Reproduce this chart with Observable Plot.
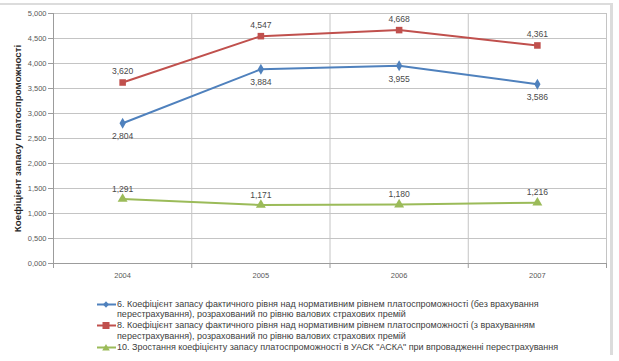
<!DOCTYPE html>
<html>
<head>
<meta charset="utf-8">
<script src="https://cdn.jsdelivr.net/npm/d3@7"></script>
<script src="https://cdn.jsdelivr.net/npm/@observablehq/plot@0.6"></script>
<style>
  html, body { margin: 0; padding: 0; background: #fff; }
  #wrap { position: relative; width: 619px; height: 361px; overflow: hidden; font-family: "Liberation Sans", Arial, sans-serif; }
  #frame { position: absolute; left: 0; top: 3px; width: 613px; height: 352px; border-top: 2px solid #dcdcdc; border-right: 3px solid #dcdcdc; box-sizing: border-box; }
  #chart { position: absolute; left: 0; top: 0; }
  .leg { position: absolute; left: 97px; font-size: 9px; line-height: 10.8px; color: #404040; white-space: nowrap; }
  .leg svg { position: absolute; left: 0; top: 0; }
  .leg .t { position: absolute; left: 20px; top: 0; }
</style>
</head>
<body>
<div id="wrap">
  <div id="frame"></div>
  <div id="chart"></div>
  <div id="legend"></div>
</div>
<script>
const years = [2004, 2005, 2006, 2007];
const series6 = [2.804, 3.884, 3.955, 3.586];
const series8 = [3.620, 4.547, 4.668, 4.361];
const series10 = [1.291, 1.171, 1.180, 1.216];
const yTicks = [0, 0.5, 1, 1.5, 2, 2.5, 3, 3.5, 4, 4.5, 5];
const yTitle = "Коефіцієнт запасу платоспроможності";
const legendLines = [
  ["6. Коефіцієнт запасу фактичного рівня над нормативним рівнем платоспроможності (без врахування", "перестрахування), розрахований по рівню валових страхових премій"],
  ["8. Коефіцієнт запасу фактичного рівня над нормативним рівнем платоспроможності (з врахуванням", "перестрахування), розрахований по рівню валових страхових премій"],
  ["10. Зростання коефіцієнту запасу платоспроможності в УАСК \"АСКА\" при впровадженні перестрахування"]
];

const seriesDefs = [
  {key: "s6", values: series6, color: "#4f81bd", symbol: "diamond", r: 3.3, dy: 13},
  {key: "s8", values: series8, color: "#c0504d", symbol: "square", r: 3.7, dy: -11},
  {key: "s10", values: series10, color: "#9bbb59", symbol: "triangle", r: 3.7, dy: -10}
];

const bounds = [2003.5, 2004.5, 2005.5, 2006.5, 2007.5];
const fmt = (v) => v.toFixed(3).replace(".", ",");
const grid = "#c4c4c4";
const axisC = "#9c9c9c";

const marks = [
  Plot.gridY(yTicks, {stroke: grid, strokeOpacity: 1}),
  Plot.gridX(bounds.slice(1), {stroke: grid, strokeOpacity: 1}),
  Plot.ruleX([2003.5], {stroke: axisC}),
  Plot.ruleY([0], {stroke: axisC}),
  Plot.axisY({ticks: yTicks, tickSize: 5, tickPadding: 2, tickFormat: fmt, stroke: axisC, fill: "#595959", fontSize: 7.5, label: null}),
  Plot.axisX({ticks: bounds, tickSize: 5, tickFormat: () => "", stroke: axisC, label: null}),
  Plot.axisX({ticks: years, tickSize: 0, tickPadding: 9, tickFormat: d => String(d), fill: "#595959", fontSize: 7.5, label: null}),
  Plot.text([yTitle], {frameAnchor: "left", dx: -36, rotate: -90, fontWeight: "bold", fontSize: 9.8, fill: "#262626", textAnchor: "middle"})
];

for (const s of seriesDefs) {
  const data = years.map((y, i) => ({year: y, value: s.values[i]}));
  marks.push(Plot.line(data, {x: "year", y: "value", stroke: s.color, strokeWidth: 2}));
  marks.push(Plot.dot(data, {x: "year", y: "value", symbol: () => s.symbol, fill: s.color, stroke: "none", r: s.r}));
  marks.push(Plot.text(data, {x: "year", y: "value", text: d => fmt(d.value), dy: s.dy, fill: "#4a4a4a", fontSize: 8.6}));
}

const chart = Plot.plot({
  width: 619,
  height: 290,
  marginLeft: 53,
  marginRight: 13,
  marginTop: 13,
  marginBottom: 27,
  style: {fontFamily: "'Liberation Sans', Arial, sans-serif", background: "transparent"},
  x: {type: "linear", domain: [2003.5, 2007.5], axis: null},
  y: {domain: [0, 5], axis: null},
  symbol: {type: "identity"},
  marks
});
document.getElementById("chart").appendChild(chart);

// Legend
const legend = document.getElementById("legend");
const tops = [298.5, 320, 341.5];
const shapes = {
  diamond: (c) => `<path d="M9 2.2 L12 5.5 L9 8.8 L6 5.5 Z" fill="${c}"/>`,
  square: (c) => `<rect x="5.5" y="2" width="7" height="7" fill="${c}"/>`,
  triangle: (c) => `<path d="M9 2 L12.8 8.5 L5.2 8.5 Z" fill="${c}"/>`
};
seriesDefs.forEach((s, i) => {
  const div = document.createElement("div");
  div.className = "leg";
  div.style.top = tops[i] + "px";
  div.innerHTML = `<svg width="19" height="11"><line x1="0" x2="19" y1="5.5" y2="5.5" stroke="${s.color}" stroke-width="2"/>${shapes[s.symbol](s.color)}</svg>` +
    `<div class="t">${legendLines[i].map(l => l.replace(/</g, "&lt;")).join("<br>")}</div>`;
  legend.appendChild(div);
});
</script>
</body>
</html>
